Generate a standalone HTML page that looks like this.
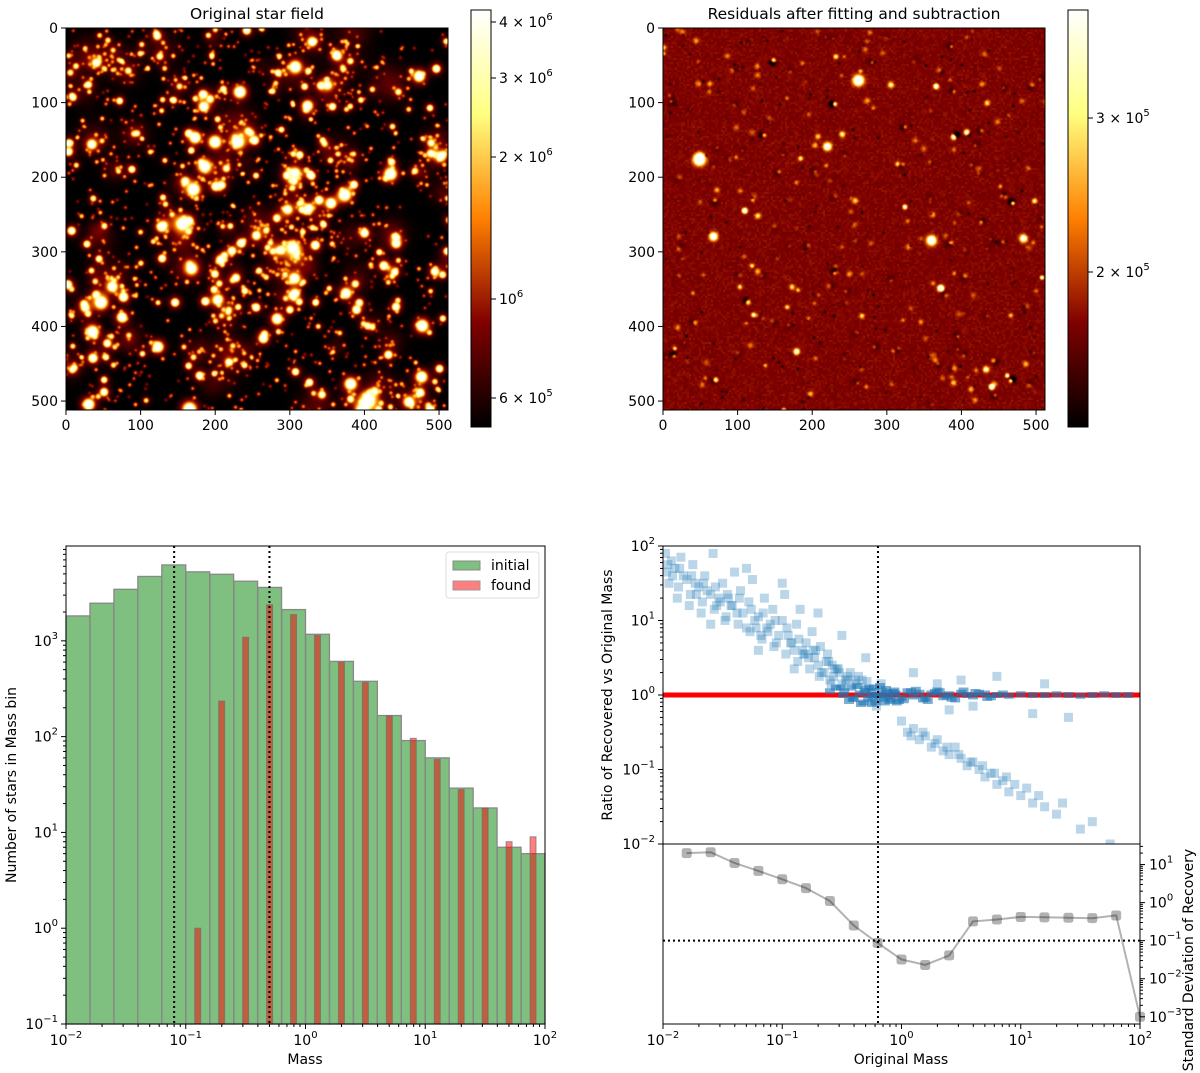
<!DOCTYPE html>
<html><head><meta charset="utf-8"><title>Star field fitting</title>
<style>
html,body{margin:0;padding:0;background:#fff;}
#wrap{position:relative;width:1200px;height:1073px;overflow:hidden;font-family:"Liberation Sans","DejaVu Sans",sans-serif;}
canvas{position:absolute;}
#svg{position:absolute;left:0;top:0;}
text{font-family:"DejaVu Sans","Liberation Sans",sans-serif;fill:#000;}
</style></head>
<body>
<div id="wrap">
<canvas id="imgL" width="382" height="382" style="left:66px;top:28px;"></canvas>
<canvas id="imgR" width="382" height="382" style="left:663px;top:28px;"></canvas>
<svg id="svg" width="1200" height="1073" xmlns="http://www.w3.org/2000/svg">
<defs>
<linearGradient id="afm" x1="0" y1="1" x2="0" y2="0">
<stop offset="0" stop-color="#000000"/><stop offset="0.25" stop-color="#800000"/>
<stop offset="0.5" stop-color="#ff8000"/><stop offset="0.75" stop-color="#ffff80"/>
<stop offset="1" stop-color="#ffffff"/></linearGradient>
</defs>
</svg>
</div>
<script>
// ---------- chart data ----------
const histInitial = [1820,2470,3450,4700,6200,5250,4950,4190,3610,2120,1170,610,378,166,91,60,29,18,7,6];
const histFound   = [0,0,0,0,0,1,235,1090,2380,1880,1140,600,370,165,96,58,28,18,8,9];
const histLogMin = -2, histLogStep = 0.2;
const massCutLines = [0.08, 0.5];
const stdMass   = [0.0158,0.0251,0.0398,0.0631,0.1,0.158,0.251,0.398,0.631,1,1.58,2.51,3.98,6.31,10,15.8,25.1,39.8,63.1,100];
const stdValues = [20,21,11,6.8,4.1,2.4,1.1,0.25,0.087,0.032,0.023,0.041,0.32,0.36,0.42,0.41,0.40,0.39,0.46,0.001];
const ratioCutMass = 0.635;
const stdCutValue = 0.1;
const scatterLogMass = [-1.98,-1.95,-1.9,-1.88,-1.85,-1.8,-1.78,-1.75,-1.7,-1.68,-1.65,-1.6,-1.58,-1.55,-1.5,-1.48,-1.45,-1.4,-1.38,-1.35,-1.3,-1.28,-1.25,-1.2,-1.18,-1.15,-1.1,-1.08,-1.05,-1.0,-0.98,-0.95,-0.9,-0.88,-0.85,-0.8,-0.78,-0.75,-0.7,-0.68,-0.65,-0.62,-0.6,-0.58,-0.55,-0.52,-0.5,-0.48,-0.45,-0.42,-0.4,-0.38,-0.35,-0.32,-0.3,-0.28,-0.25,-0.22,-0.2,-0.18,-0.15,-0.12,-0.1,-1.3,-1.0,-0.7,-0.5,-0.3,-1.6,-1.2,-0.9,-0.6,-1.92,-1.72,-1.52,-1.42,-1.22,-1.12,-0.92,-0.82,-0.72,-0.56,-0.46,-0.36,-0.26,-0.16,-0.44,-0.34,-0.24,-0.14,-0.06,-0.33,-0.27,-0.21,
-1.97,-1.93,-1.87,-1.83,-1.77,-1.73,-1.67,-1.63,-1.57,-1.53,-1.47,-1.43,-1.37,-1.33,-1.27,-1.23,-1.17,-1.13,-1.07,-1.03,-0.97,-0.93,-0.87,-0.83,-0.77,-0.73,-0.67,-0.63,-0.57,-0.53,-0.47,-0.43,-0.37,-0.31,-0.29,-0.23,-0.19,-0.13,-0.09,-0.07,-0.04,-0.39,-0.41,-0.49,-0.51,-0.54,-0.59,-0.61,-0.69,-0.74,-0.81,-0.86,-0.96,-1.06,-1.16,-1.26,-1.36,-1.46,-1.56,-1.66,-1.76,-1.86,-1.96,-0.25,-0.17,-0.11,
-0.05,0.0,0.05,0.1,0.15,0.2,0.25,0.3,0.35,0.4,0.45,0.5,0.55,0.6,0.7,0.8,0.9,1.0,1.1,1.2,1.3,1.4,1.5,1.6,1.7,1.8,1.9,0.1,0.3,0.5,0.8,0.4,0.6,1.2,1.1,1.4,-0.02,0.08,0.18,0.28,0.38,0.65,0.75,0.85,0.02,0.12,0.22,0.32,0.42,0.52,0.62,0.72,
0.0,0.05,0.1,0.15,0.2,0.25,0.3,0.35,0.4,0.45,0.5,0.55,0.6,0.65,0.7,0.75,0.8,0.85,0.9,0.95,1.0,1.05,1.1,1.2,1.3,1.35,1.5,1.6,1.75,0.08,0.18,0.28,0.38,0.48,0.58,0.68,0.78,0.88,1.15];
const scatterLogRatio = [1.9,1.5,1.7,1.3,1.85,1.55,1.2,1.75,1.45,1.1,1.6,1.35,1.9,1.2,1.5,1.0,1.3,1.65,1.1,1.4,0.9,1.25,1.55,1.05,0.8,1.3,0.95,1.15,0.7,1.0,1.35,0.8,0.6,0.95,1.15,0.7,0.5,0.85,0.4,0.65,0.3,0.55,0.2,0.4,0.1,0.3,0.15,0.05,0.25,0.1,-0.05,0.15,0.02,-0.1,0.08,-0.05,0.05,-0.1,0.0,0.12,-0.05,0.03,-0.08,1.7,1.5,1.1,0.8,0.5,0.95,0.6,0.35,0.05,1.6,1.35,1.25,1.2,0.9,0.85,0.7,0.55,0.6,0.35,0.2,0.25,0.0,0.05,-0.08,-0.12,-0.04,-0.1,0.06,0.2,0.1,-0.15,
1.65,1.8,1.45,1.6,1.35,1.5,1.25,1.4,1.15,1.3,1.05,1.2,0.95,1.1,0.85,1.0,0.75,0.9,0.65,0.8,0.55,0.7,0.45,0.6,0.35,0.5,0.3,0.45,0.25,0.35,0.2,0.3,0.12,0.05,0.18,0.1,-0.02,0.08,-0.06,0.04,-0.1,0.2,-0.05,0.0,0.1,0.35,0.15,0.45,0.25,0.6,0.55,0.75,0.9,1.0,1.1,1.15,1.3,1.35,1.45,1.5,1.6,1.7,1.75,-0.12,0.15,-0.02,
0.02,-0.04,0.05,-0.02,0.03,-0.05,0.02,0.06,-0.03,0.01,-0.06,0.03,0.0,-0.02,0.02,0.0,-0.01,0.01,0.0,0.0,0.01,0.0,-0.01,0.0,0.01,0.0,0.0,0.3,0.15,0.2,0.25,-0.2,-0.15,0.15,-0.25,-0.3,-0.08,0.05,-0.06,0.04,-0.02,0.03,-0.03,0.02,-0.07,0.07,-0.08,0.05,-0.05,0.06,0.04,-0.04,
-0.35,-0.5,-0.45,-0.6,-0.55,-0.7,-0.6,-0.75,-0.8,-0.7,-0.85,-0.95,-0.9,-1.0,-1.1,-1.05,-1.2,-1.15,-1.3,-1.2,-1.35,-1.25,-1.45,-1.5,-1.6,-1.45,-1.8,-1.7,-2.0,-0.55,-0.5,-0.65,-0.7,-0.8,-0.9,-0.95,-1.05,-1.1,-1.35];

// ---------- helpers ----------
const NS = 'http://www.w3.org/2000/svg';
const svg = document.getElementById('svg');
function mk(tag, attrs, parent){
  const e = document.createElementNS(NS, tag);
  for (const k in attrs) e.setAttribute(k, attrs[k]);
  (parent || svg).appendChild(e);
  return e;
}
function grp(name){
  const g = mk('g', {});
  
  
  return g;
}
function powLabel(parent, x, y, base, exp, anchor, name){
  const t = mk('text', {x:x, y:y, 'font-size':14, 'text-anchor':anchor || 'middle'}, parent);
  
  
  t.appendChild(document.createTextNode(base + '10'));
  const s = mk('tspan', {dy:-7, 'font-size':10}, t);
  s.textContent = exp;
  return t;
}
const L10 = Math.log10;

// ---------- bottom-left histogram ----------
const H = {x0:66, x1:545, yb:1024, yt:546, lmin:-1, lmax:3.99};
function hx(v){ return H.x0 + (L10(v) + 2) / 4 * (H.x1 - H.x0); }
function hxl(l){ return H.x0 + (l + 2) / 4 * (H.x1 - H.x0); }
function hy(v){ return H.yb - (L10(v) - H.lmin) / (H.lmax - H.lmin) * (H.yb - H.yt); }
(function(){
  const g = grp('histogram-plot');
  const bars = grp('initial-bars'); g.appendChild(bars);
  histInitial.forEach((c, i) => {
    const l0 = histLogMin + i * histLogStep, l1 = l0 + histLogStep;
    const r = mk('rect', {x:hxl(l0), y:hy(c), width:hxl(l1)-hxl(l0), height:H.yb-hy(c), fill:'rgba(0,128,0,0.5)', stroke:'#888', 'stroke-width':1.3}, bars);
    
    
  });
  const fb = grp('found-bars'); g.appendChild(fb);
  histFound.forEach((c, i) => {
    if (c <= 0) return;
    const lc = histLogMin + (i + 0.5) * histLogStep;
    const r = mk('rect', {x:hxl(lc-0.025), y:hy(c), width:hxl(lc+0.025)-hxl(lc-0.025), height:H.yb-hy(c), fill:'rgba(255,0,0,0.5)', stroke:'rgba(110,110,110,0.7)', 'stroke-width':1}, fb);
    
    
  });
  massCutLines.forEach((m, i) => {
    const ln = mk('line', {x1:hx(m), x2:hx(m), y1:H.yt, y2:H.yb, stroke:'#000', 'stroke-width':2, 'stroke-dasharray':'2,3'}, g);
    
    
  });
  const fr = mk('rect', {x:H.x0, y:H.yt, width:H.x1-H.x0, height:H.yb-H.yt, fill:'none', stroke:'#000', 'stroke-width':1}, g);
  
  
  for (let e = -2; e <= 2; e++) {
    const x = hxl(e);
    mk('line', {x1:x, x2:x, y1:H.yb, y2:H.yb+5, stroke:'#000'}, g);
    powLabel(g, x, H.yb+21, '', (e<0?'−':'') + Math.abs(e), 'middle', 'x-tick-label');
    if (e < 2) for (let k = 2; k < 10; k++) { const xm = hxl(e + L10(k)); mk('line', {x1:xm, x2:xm, y1:H.yb, y2:H.yb+3, stroke:'#000'}, g); }
  }
  for (let e = -1; e <= 3; e++) {
    const y = H.yb - (e - H.lmin) / (H.lmax - H.lmin) * (H.yb - H.yt);
    mk('line', {x1:H.x0-5, x2:H.x0, y1:y, y2:y, stroke:'#000'}, g);
    powLabel(g, H.x0-8, y+5, '', (e<0?'−':'') + Math.abs(e), 'end', 'y-tick-label');
    for (let k = 2; k < 10; k++) { const l = e + L10(k); if (l > H.lmax) break; const ym = H.yb - (l - H.lmin) / (H.lmax - H.lmin) * (H.yb - H.yt); mk('line', {x1:H.x0-3, x2:H.x0, y1:ym, y2:ym, stroke:'#000'}, g); }
  }
  const xl = mk('text', {x:305, y:1064, 'font-size':14, 'text-anchor':'middle'}, g);
  xl.textContent = 'Mass';
  
  
  const yl = mk('text', {x:0, y:0, 'font-size':14, 'text-anchor':'middle', transform:'translate(16,785) rotate(-90)'}, g);
  yl.textContent = 'Number of stars in Mass bin';
  
  
  const lg = grp('legend'); g.appendChild(lg);
  mk('rect', {x:446, y:552, width:93, height:46, rx:3, fill:'#fff', stroke:'#ddd'}, lg);
  const e1 = mk('rect', {x:453, y:561, width:27, height:9, fill:'rgba(0,128,0,0.5)', stroke:'#888'}, lg);
  
  
  const t1 = mk('text', {x:491, y:570, 'font-size':14}, lg); t1.textContent = 'initial';
  const e2 = mk('rect', {x:453, y:581, width:27, height:9, fill:'rgba(255,0,0,0.5)', stroke:'#999'}, lg);
  
  
  const t2 = mk('text', {x:491, y:590, 'font-size':14}, lg); t2.textContent = 'found';
})();

// ---------- bottom-right ratio + std ----------
const R = {x0:663, x1:1140, yt:546, ym:844, yb:1024, smin:-3.19, smax:1.54};
function rx(v){ return R.x0 + (L10(v) + 2) / 4 * (R.x1 - R.x0); }
function rxl(l){ return R.x0 + (l + 2) / 4 * (R.x1 - R.x0); }
function ryl(l){ return R.ym - (l + 2) / 4 * (R.ym - R.yt); }
function syl(l){ return R.yb - (l - R.smin) / (R.smax - R.smin) * (R.yb - R.ym); }
(function(){
  const g = grp('ratio-plot');
  const clip = mk('clipPath', {id:'rclip'}, svg.querySelector('defs'));
  mk('rect', {x:R.x0, y:R.yt, width:R.x1-R.x0, height:R.ym-R.yt}, clip);
  const rl = mk('line', {x1:R.x0, x2:R.x1, y1:ryl(0), y2:ryl(0), stroke:'#ff0000', 'stroke-width':5}, g);
  
  
  const pts = grp('scatter-points'); g.appendChild(pts);
  pts.setAttribute('clip-path', 'url(#rclip)');
  scatterLogMass.forEach((lm, i) => {
    const x = rxl(lm), y = ryl(scatterLogRatio[i]);
    const near = Math.abs(scatterLogRatio[i]) < 0.15 && lm > -0.7;
    const w = near ? 10 : 9, h = near ? 6 : 9;
    const r = mk('rect', {x:x-w/2, y:y-h/2, width:w, height:h, fill:'#1f77b4', 'fill-opacity':near?0.6:0.3}, pts);
    
    
  });
  const sg = grp('std-panel'); g.appendChild(sg);
  const hl = mk('line', {x1:R.x0, x2:R.x1, y1:syl(L10(stdCutValue)), y2:syl(L10(stdCutValue)), stroke:'#000', 'stroke-width':2, 'stroke-dasharray':'2,3'}, sg);
  
  
  const d = stdMass.map((m, i) => (i ? 'L' : 'M') + rx(m).toFixed(1) + ',' + syl(L10(stdValues[i])).toFixed(1)).join(' ');
  const p = mk('path', {d:d, fill:'none', stroke:'rgba(0,0,0,0.3)', 'stroke-width':2}, sg);
  
  
  stdMass.forEach((m, i) => {
    const x = rx(m), y = syl(L10(stdValues[i]));
    const r = mk('rect', {x:x-5, y:y-5, width:10, height:10, rx:2.5, fill:'rgba(0,0,0,0.3)'}, sg);
    
    
  });
  const vl = mk('line', {x1:rx(ratioCutMass), x2:rx(ratioCutMass), y1:R.yt, y2:R.yb, stroke:'#000', 'stroke-width':2, 'stroke-dasharray':'2,3'}, g);
  
  
  const fr = mk('rect', {x:R.x0, y:R.yt, width:R.x1-R.x0, height:R.yb-R.yt, fill:'none', stroke:'#000'}, g);
  
  
  mk('line', {x1:R.x0, x2:R.x1, y1:R.ym, y2:R.ym, stroke:'#000'}, g);
  for (let e = -2; e <= 2; e++) {
    const x = rxl(e);
    mk('line', {x1:x, x2:x, y1:R.yb, y2:R.yb+5, stroke:'#000'}, g);
    powLabel(g, x, R.yb+21, '', (e<0?'−':'') + Math.abs(e), 'middle', 'x-tick-label');
    if (e < 2) for (let k = 2; k < 10; k++) { const xm = rxl(e + L10(k)); mk('line', {x1:xm, x2:xm, y1:R.yb, y2:R.yb+3, stroke:'#000'}, g); }
    const y = ryl(e);
    mk('line', {x1:R.x0-5, x2:R.x0, y1:y, y2:y, stroke:'#000'}, g);
    powLabel(g, R.x0-8, y+5, '', (e<0?'−':'') + Math.abs(e), 'end', 'ratio-tick-label');
    if (e < 2) for (let k = 2; k < 10; k++) { const ym = ryl(e + L10(k)); mk('line', {x1:R.x0-3, x2:R.x0, y1:ym, y2:ym, stroke:'#000'}, g); }
  }
  for (let e = -3; e <= 1; e++) {
    const y = syl(e);
    mk('line', {x1:R.x1, x2:R.x1+5, y1:y, y2:y, stroke:'#000'}, g);
    powLabel(g, R.x1+9, y+5, '', (e<0?'−':'') + Math.abs(e), 'start', 'std-tick-label');
    for (let k = 2; k < 10; k++) { const l = e + L10(k); if (l > R.smax) break; const ym = syl(l); mk('line', {x1:R.x1, x2:R.x1+3, y1:ym, y2:ym, stroke:'#000'}, g); }
  }
  const xl = mk('text', {x:901, y:1064, 'font-size':14, 'text-anchor':'middle'}, g);
  xl.textContent = 'Original Mass';
  
  
  const yl = mk('text', {x:0, y:0, 'font-size':14, 'text-anchor':'middle', transform:'translate(612,695) rotate(-90)'}, g);
  yl.textContent = 'Ratio of Recovered vs Original Mass';
  
  
  const y2 = mk('text', {x:0, y:0, 'font-size':14, 'text-anchor':'middle', transform:'translate(1193,960) rotate(-90)'}, g);
  y2.textContent = 'Standard Deviation of Recovery';
  
  
})();

// ---------- image axes, titles, colorbars ----------
function imageAxes(x0, title, cbx, cbLabels, name){
  const g = grp(name);
  const y0 = 28, S = 382;
  const fr = mk('rect', {x:x0, y:y0, width:S, height:S, fill:'none', stroke:'#000'}, g);
  
  
  const t = mk('text', {x:x0+S/2, y:19, 'font-size':15.5, 'text-anchor':'middle'}, g);
  t.textContent = title;
  
  
  for (let v = 0; v <= 500; v += 100) {
    const p = v / 512 * S;
    mk('line', {x1:x0+p, x2:x0+p, y1:y0+S, y2:y0+S+5, stroke:'#000'}, g);
    const tx = mk('text', {x:x0+p, y:y0+S+20, 'font-size':14, 'text-anchor':'middle'}, g);
    tx.textContent = v;
    
    
    mk('line', {x1:x0-5, x2:x0, y1:y0+p, y2:y0+p, stroke:'#000'}, g);
    const ty = mk('text', {x:x0-8, y:y0+p+5, 'font-size':14, 'text-anchor':'end'}, g);
    ty.textContent = v;
    
    
  }
  const cb = mk('rect', {x:cbx, y:10, width:20, height:417, fill:'url(#afm)', stroke:'#000'}, g);
  
  
  cbLabels.forEach(lb => {
    mk('line', {x1:cbx+20, x2:cbx+25, y1:lb[0], y2:lb[0], stroke:'#000'}, g);
    const tt = mk('text', {x:cbx+28, y:lb[0]+5, 'font-size':14}, g);
    
    
    tt.appendChild(document.createTextNode(lb[1] ? lb[1] + ' × 10' : '10'));
    const s = mk('tspan', {dy:-7, 'font-size':10}, tt);
    s.textContent = lb[2];
  });
}
imageAxes(66, 'Original star field', 471, [[22,'4','6'],[78,'3','6'],[157,'2','6'],[299,'','6'],[398,'6','5']], 'original-star-field-panel');
imageAxes(663, 'Residuals after fitting and subtraction', 1068, [[118,'3','5'],[272,'2','5']], 'residuals-panel');

// ---------- star field rendering ----------
function prng(seed){ return function(){ seed |= 0; seed = seed + 0x6D2B79F5 | 0; let t = Math.imul(seed ^ seed >>> 15, 1 | seed); t = t + Math.imul(t ^ t >>> 7, 61 | t) ^ t; return ((t ^ t >>> 14) >>> 0) / 4294967296; }; }
function gauss(rnd){ return Math.sqrt(-2*Math.log(rnd()+1e-9)) * Math.cos(2*Math.PI*rnd()); }
const W = 382;
function addG(f, cx, cy, amp, s){
  const r = Math.ceil(s*3.5);
  for (let y = Math.max(0, Math.floor(cy-r)); y <= Math.min(W-1, cy+r); y++)
    for (let x = Math.max(0, Math.floor(cx-r)); x <= Math.min(W-1, cx+r); x++) {
      const d2 = (x-cx)*(x-cx) + (y-cy)*(y-cy);
      f[y*W+x] += amp * Math.exp(-d2/(2*s*s));
    }
}
function paint(id, f, tone){
  const c = document.getElementById(id).getContext('2d');
  const im = c.createImageData(W, W);
  for (let i = 0; i < W*W; i++) {
    const t = tone(f[i]);
    im.data[i*4] = 255*Math.min(1, Math.max(0, 2*t));
    im.data[i*4+1] = 255*Math.min(1, Math.max(0, 2*t-0.5));
    im.data[i*4+2] = 255*Math.min(1, Math.max(0, 2*t-1));
    im.data[i*4+3] = 255;
  }
  c.putImageData(im, 0, 0);
}
(function(){
  const rnd = prng(11), f = new Float32Array(W*W);
  const cl = [];
  for (let i = 0; i < 90; i++) cl.push([rnd()*W, rnd()*W]);
  cl.forEach(c => addG(f, c[0], c[1], 0.08 + rnd()*0.15, 6 + rnd()*6));
  for (let i = 0; i < 1700; i++) {
    let x, y;
    if (rnd() < 0.5) { const c = cl[Math.floor(rnd()*cl.length)]; x = c[0] + gauss(rnd)*12; y = c[1] + gauss(rnd)*12; }
    else { x = rnd()*W; y = rnd()*W; }
    const a = 0.35 * Math.pow(rnd()+0.02, -0.95);
    const s = Math.min(3.0, 0.9 + 0.4*Math.log(1+a*2));
    addG(f, x, y, a, s);
    if (a > 1.5) addG(f, x, y, a*0.1, s*2.4);
  }
  paint('imgL', f, v => 1 - Math.exp(-0.9*v));
})();
(function(){
  const rnd = prng(21), f = new Float32Array(W*W);
  for (let by = 0; by < W; by += 2) for (let bx = 0; bx < W; bx += 2) {
    const n = 0.25 + (rnd()+rnd()+rnd()-1.5)*0.04;
    for (let y = by; y < Math.min(W, by+2); y++) for (let x = bx; x < Math.min(W, bx+2); x++) f[y*W+x] = n;
  }
  for (let i = 0; i < 260; i++) {
    const x = rnd()*W, y = rnd()*W;
    const a = 0.08 + 0.1*Math.pow(rnd()+0.03, -0.8);
    addG(f, x, y, a, 1.2 + rnd()*0.8);
    if (rnd() < 0.45) addG(f, x + (rnd()-0.5)*4, y + (rnd()-0.5)*4, -a*0.6, 2.2);
  }
  for (let i = 0; i < 160; i++) addG(f, rnd()*W, rnd()*W, -0.15 - rnd()*0.15, 0.9);
  [[36,131,1.8,3.5],[195,52,1.5,3.2],[268,212,1.3,3],[164,118,1.2,2.5],[50,208,1.2,2.6],[360,210,1.0,2.5]].forEach(s => {
    addG(f, s[0], s[1], s[2], s[3]);
  });
  paint('imgR', f, v => Math.min(1, Math.max(0, v)));
})();
</script>
</body></html>
